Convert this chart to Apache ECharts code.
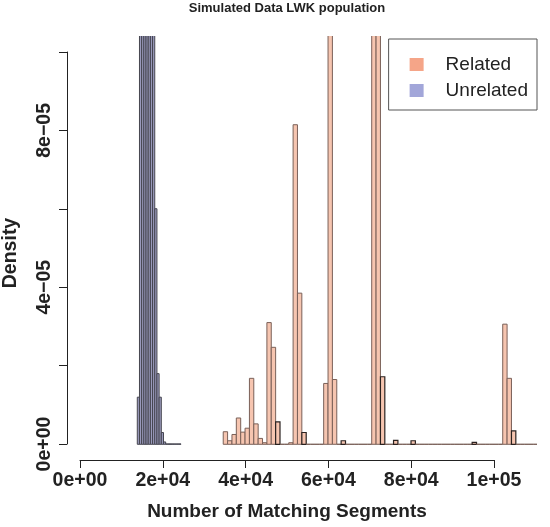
<!DOCTYPE html>
<html>
<head>
<meta charset="utf-8">
<script src="https://cdn.jsdelivr.net/npm/echarts@6/dist/echarts.min.js"></script>
<style>html,body{margin:0;padding:0;background:#fff}#c{width:550px;height:527px}</style>
</head>
<body>
<div id="c"></div>
<script>
// ---------- data ----------
const titleText = 'Simulated Data LWK population';
const xAxisTitle = 'Number of Matching Segments';
const yAxisTitle = 'Density';
const xTickLabels = ['0e+00', '2e+04', '4e+04', '6e+04', '8e+04', '1e+05'];
const yTickLabels = ['0e+00', '2e\u221205', '4e\u221205', '6e\u221205', '8e\u221205', '1e\u221204'];
const seriesNames = ['Related', 'Unrelated'];

// Unrelated histogram: first break and bin width, densities per bin
const unrelatedStart = 13840;
const unrelatedWidth = 527.5;
const unrelatedDensity = [
  1.2e-5, 1.6e-4, 2.4e-4, 3.1e-4, 3.4e-4, 3.0e-4, 2.4e-4, 1.9e-4,
  6.0e-5, 1.8e-5, 1.2e-5, 3.0e-6, 6e-7, 1e-7, 1e-7, 1e-7, 1e-7, 1e-7, 1e-7, 1e-7
];

// Related histogram: first break and bin width, densities per bin
const relatedStart = 34600;
const relatedWidth = 1055;
const relatedDensity = [
  3.2e-6, 0.9e-6, 2.5e-6, 6.7e-6, 3.1e-6, 4.1e-6, 16.8e-6, 5.2e-6, 1.5e-6, 0.4e-6,
  31.0e-6, 24.7e-6, 5.7e-6, 0, 0, 0.4e-6, 81.4e-6, 38.5e-6, 3.0e-6, 0,
  0, 0, 0, 15.5e-6, 2.2e-4, 16.5e-6, 0, 0.9e-6, 0, 0,
  0, 0, 0, 0, 2.0e-4, 1.95e-4, 17.2e-6, 0, 0, 1.0e-6,
  0, 0, 0, 0.9e-6, 0, 0, 0, 0, 0, 0,
  0, 0, 0, 0, 0, 0, 0, 0.5e-6, 0, 0,
  0, 0, 0, 0, 30.6e-6, 16.8e-6, 3.4e-6, 0, 0, 0,
  0, 0
];

// ---------- build ----------
function toBins(start, width, dens) {
  return dens.map((d, i) => [start + i * width, start + (i + 1) * width, d, i]);
}
const relatedBins = toBins(relatedStart, relatedWidth, relatedDensity);
const unrelatedBins = toBins(unrelatedStart, unrelatedWidth, unrelatedDensity);

const edgeBins = new Set([12, 18, 27, 36, 39, 43, 57, 66]);

const FONT = "'Liberation Sans', Arial, Helvetica, sans-serif";
const relFill = '#F6C5B0', relStroke = '#7a6058';
const unrFill = '#9a9abc', unrStroke = '#45454f';

function makeRender(fill, stroke, isRelated) {
  return function (params, api) {
    const x0 = api.value(0), x1 = api.value(1), y = api.value(2), idx = api.value(3);
    const p0 = api.coord([x0, y]);
    const p1 = api.coord([x1, 0]);
    const dark = isRelated && edgeBins.has(idx);
    return {
      type: 'rect',
      shape: { x: p0[0], y: p0[1], width: p1[0] - p0[0], height: p1[1] - p0[1] },
      style: { fill: fill, stroke: dark ? '#2a2220' : stroke, lineWidth: dark ? 1.2 : 1 }
    };
  };
}

const chart = echarts.init(document.getElementById('c'), null, { renderer: 'canvas' });
chart.setOption({
  animation: false,
  backgroundColor: '#ffffff',
  textStyle: { fontFamily: FONT },
  title: {
    text: titleText,
    left: 287, top: 2, textAlign: 'center', padding: 0,
    textStyle: { fontSize: 13, fontWeight: 'bold', color: '#222', fontFamily: FONT }
  },
  legend: {
    orient: 'vertical',
    right: 13, top: 39,
    selectedMode: false,
    borderColor: '#555', borderWidth: 1,
    padding: [16, 9, 10, 21],
    itemWidth: 14, itemHeight: 13, itemGap: 7,
    textStyle: { fontSize: 19, color: '#222', fontFamily: FONT, padding: [0, 0, 0, 17] },
    data: [
      { name: seriesNames[0], icon: 'rect', itemStyle: { color: '#F5A588', borderWidth: 0 } },
      { name: seriesNames[1], icon: 'rect', itemStyle: { color: '#A2A6D9', borderWidth: 0 } }
    ]
  },
  grid: [
    { left: 67, right: 13, top: 36, bottom: 67, outerBoundsMode: 'none' },
    { left: 80, right: 56, top: 36, bottom: 67, outerBoundsMode: 'none' },
    { left: 67, right: 13, top: 52, bottom: 83, outerBoundsMode: 'none' }
  ],
  xAxis: [
    { type: 'value', gridIndex: 0, min: -3140, max: 110400, show: false },
    {
      type: 'value', gridIndex: 1, min: 0, max: 100000, interval: 20000,
      axisLine: { show: true, lineStyle: { color: '#222', width: 1 } },
      axisTick: { show: true, length: 8, lineStyle: { color: '#222' } },
      splitLine: { show: false },
      axisLabel: {
        margin: 11, fontSize: 19.5, fontWeight: 'bold', color: '#222', fontFamily: FONT,
        formatter: v => xTickLabels[Math.round(v / 20000)]
      },
      name: xAxisTitle, nameLocation: 'middle', nameGap: 42,
      nameTextStyle: { fontSize: 19, fontWeight: 'bold', color: '#222', fontFamily: FONT }
    },
    { type: 'value', gridIndex: 2, min: 0, max: 1, show: false }
  ],
  yAxis: [
    { type: 'value', gridIndex: 0, min: -4e-6, max: 1.04e-4, show: false },
    { type: 'value', gridIndex: 1, min: 0, max: 1, show: false },
    {
      type: 'value', gridIndex: 2, min: 0, max: 1e-4, interval: 2e-5,
      axisLine: { show: true, onZero: false, lineStyle: { color: '#222', width: 1 } },
      axisTick: { show: true, length: 8, lineStyle: { color: '#222' } },
      splitLine: { show: false },
      axisLabel: {
        margin: 12, rotate: 90, fontSize: 19.5, fontWeight: 'bold', color: '#222', fontFamily: FONT,
        formatter: v => { const i = Math.round(v / 2e-5); return i % 2 === 0 ? yTickLabels[i] : ''; }
      },
      name: yAxisTitle, nameLocation: 'middle', nameGap: 46, nameRotate: 90,
      nameTextStyle: { fontSize: 19.5, fontWeight: 'bold', color: '#222', fontFamily: FONT, padding: [0, 10, 0, 0] }
    }
  ],
  series: [
    {
      name: seriesNames[0], type: 'custom', xAxisIndex: 0, yAxisIndex: 0, clip: true,
      itemStyle: { color: '#F5A588' },
      renderItem: makeRender(relFill, relStroke, true),
      encode: { x: [0, 1], y: 2 },
      data: relatedBins
    },
    {
      name: seriesNames[1], type: 'custom', xAxisIndex: 0, yAxisIndex: 0, clip: true,
      itemStyle: { color: '#A2A6D9' },
      renderItem: makeRender(unrFill, unrStroke, false),
      encode: { x: [0, 1], y: 2 },
      data: unrelatedBins
    }
  ]
});
</script>
</body>
</html>
